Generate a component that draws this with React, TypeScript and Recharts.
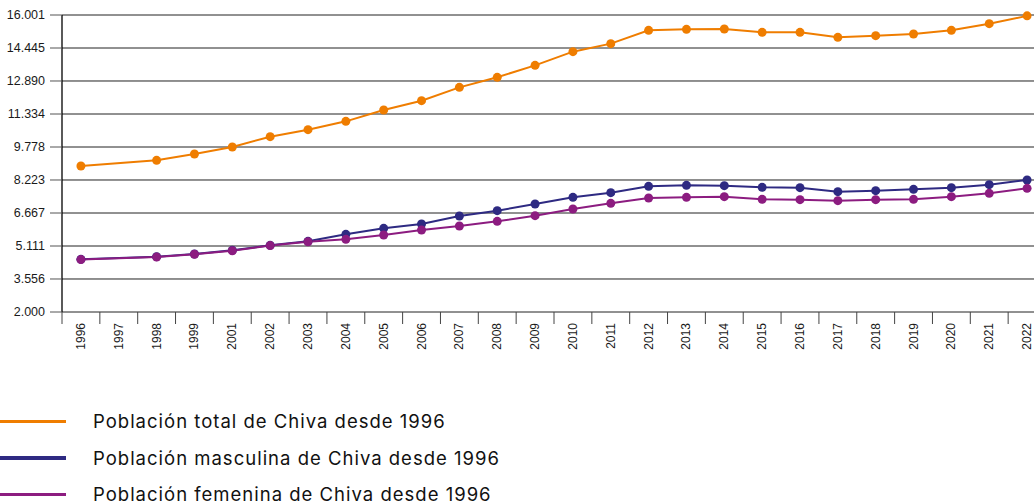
import React from 'react';
import { LineChart, Line, XAxis, YAxis, CartesianGrid } from 'recharts';

const years = [
  '1996', '1997', '1998', '1999', '2001', '2002', '2003', '2004', '2005', '2006', '2007', '2008', '2009',
  '2010', '2011', '2012', '2013', '2014', '2015', '2016', '2017', '2018', '2019', '2020', '2021', '2022',
];
const total = [
  8883, null, 9151, 9448, 9778, 10265, 10595, 10988, 11522, 11962, 12591, 13063, 13628,
  14272, 14650, 15277, 15325, 15341, 15184, 15184, 14948, 15026, 15105, 15278, 15592, 15960,
];
const male = [
  4483, null, 4608, 4734, 4907, 5143, 5331, 5661, 5944, 6148, 6525, 6776, 7091,
  7406, 7626, 7924, 7971, 7955, 7877, 7862, 7673, 7720, 7783, 7862, 8003, 8223,
];
const female = [
  4470, null, 4590, 4720, 4890, 5130, 5310, 5425, 5630, 5865, 6054, 6274, 6541,
  6855, 7123, 7374, 7406, 7437, 7311, 7296, 7248, 7296, 7311, 7437, 7594, 7830,
];
const yTicks = [2000, 3556, 5111, 6667, 8223, 9778, 11334, 12890, 14445, 16001];

const series = [
  { key: 'total', name: 'Población total de Chiva desde 1996', color: '#ef7d00' },
  { key: 'male', name: 'Población masculina de Chiva desde 1996', color: '#2e2a82' },
  { key: 'female', name: 'Población femenina de Chiva desde 1996', color: '#8c1c80' },
];

const data = years.map((year, i) => ({ year, total: total[i], male: male[i], female: female[i] }));

const fmt = (v: number) => String(v).replace(/\B(?=(\d{3})+(?!\d))/g, '.');

const XTick = (props: any) => {
  const { x, y, payload } = props;
  const half = payload.offset ?? 18.9;
  return (
    <g>
      <line x1={x - half} x2={x - half} y1={y} y2={y + 12} stroke="#444" strokeWidth={1} />
      <text
        transform={`translate(${x},${y + 11}) rotate(-90)`}
        textAnchor="end"
        dominantBaseline="central"
        fontSize={12}
        fill="#1a1a1a"
        fontFamily="'Liberation Sans', Arial, sans-serif"
      >
        {payload.value}
      </text>
    </g>
  );
};

export default function App() {
  return (
    <div style={{ position: 'fixed', left: 0, top: 0, width: 1034, height: 502, overflow: 'hidden', background: '#fff' }}>
      <LineChart width={1046} height={372} data={data} margin={{ top: 15, right: 0, bottom: 0, left: 0 }}>
        <CartesianGrid vertical={false} stroke="#222" strokeWidth={1} />
        <XAxis
          dataKey="year"
          scale="band"
          interval={0}
          height={60}
          axisLine={false}
          tickLine={false}
          tickSize={0}
          tickMargin={0}
          tick={<XTick />}
        />
        <YAxis
          type="number"
          domain={[2000, 16001]}
          ticks={yTicks}
          width={62}
          tickSize={12}
          tickMargin={5}
          tickFormatter={fmt}
          axisLine={{ stroke: '#000', strokeWidth: 1.3 }}
          tickLine={{ stroke: '#555' }}
          tick={{ fontSize: 12.5, fill: '#1a1a1a', fontFamily: "'Liberation Sans', Arial, sans-serif" }}
          interval={0}
        />
        {series.map((s) => (
          <Line
            key={s.key}
            dataKey={s.key}
            stroke={s.color}
            strokeWidth={2}
            connectNulls
            dot={{ r: 4.5, fill: s.color, stroke: s.color, strokeWidth: 0 }}
            activeDot={false}
            isAnimationActive={false}
          />
        ))}
      </LineChart>
      <div style={{ position: 'absolute', left: 0, top: 403, fontFamily: 'Inter, sans-serif' }}>
        {series.map((s) => (
          <div key={s.key} style={{ display: 'flex', alignItems: 'center', height: 36.5 }}>
            <span style={{ display: 'inline-block', width: 66, height: 3.5, background: s.color }} />
            <span style={{ marginLeft: 27, fontSize: 18.5, letterSpacing: 1, color: '#111' }}>{s.name}</span>
          </div>
        ))}
      </div>
    </div>
  );
}
